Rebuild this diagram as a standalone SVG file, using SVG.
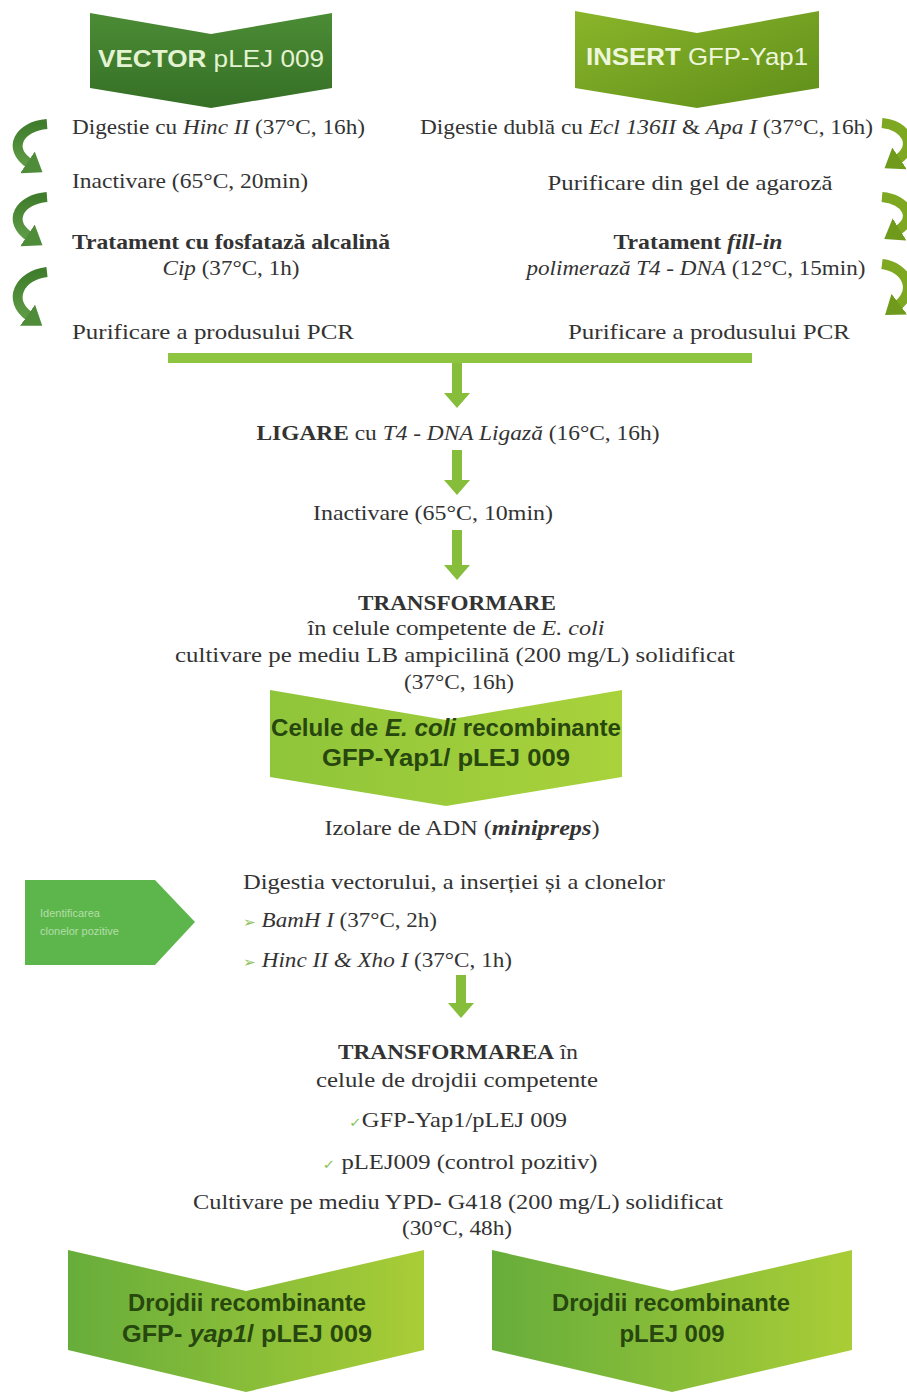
<svg xmlns="http://www.w3.org/2000/svg" width="907" height="1393" viewBox="0 0 907 1393">
<defs>
<style>
.t{font-family:"Liberation Serif","Times New Roman",serif;font-size:21px;fill:#333333}
.b{font-weight:bold}
.i{font-style:italic}
.hv{font-family:"Liberation Sans",Arial,sans-serif}
.ct{font-family:"Liberation Sans",Arial,sans-serif;font-size:23px;font-weight:bold;fill:#27470f;text-anchor:middle}
.m{text-anchor:middle}
.arr{fill:#86bd3a}
.cl{fill:none;stroke:url(#gl);stroke-width:10;stroke-linecap:butt}
.cr{fill:none;stroke:#7ea722;stroke-width:10;stroke-linecap:butt}
.g{fill:#8cc25a;font-family:"DejaVu Sans",sans-serif}
</style>
<linearGradient id="gv" x1="0" y1="0" x2="0" y2="1"><stop offset="0" stop-color="#4c8c35"/><stop offset="1" stop-color="#356f26"/></linearGradient>
<linearGradient id="gi" x1="0" y1="0" x2="1" y2="1"><stop offset="0" stop-color="#8ab52a"/><stop offset="1" stop-color="#5f8e1a"/></linearGradient>
<linearGradient id="gc" x1="0" y1="0" x2="1" y2="0"><stop offset="0" stop-color="#8fc53a"/><stop offset="1" stop-color="#a9d23b"/></linearGradient>
<linearGradient id="gb" x1="0" y1="0" x2="1" y2="0"><stop offset="0" stop-color="#67ad3b"/><stop offset="1" stop-color="#a9cd36"/></linearGradient>
<linearGradient id="gl" x1="0" y1="0" x2="0" y2="1"><stop offset="0" stop-color="#3f7d2c"/><stop offset="1" stop-color="#5f9b45"/></linearGradient>
<marker id="ml" markerUnits="userSpaceOnUse" markerWidth="22" markerHeight="26" refX="3" refY="13" orient="auto"><path d="M0,0 L18,13 L0,26 Z" fill="#4f8c3a"/></marker>
<marker id="mr" markerUnits="userSpaceOnUse" markerWidth="22" markerHeight="26" refX="3" refY="13" orient="auto"><path d="M0,0 L18,13 L0,26 Z" fill="#6f9a1c"/></marker>
</defs>
<rect width="907" height="1393" fill="#ffffff"/>

<g id="connectors">
<path class="cl" d="M47,124 C20,126 6,148 30,164" marker-end="url(#ml)"/>
<path class="cl" d="M47,197 C20,199 6,221 30,237" marker-end="url(#ml)"/>
<path class="cl" d="M47,272 C20,275 6,300 30,317" marker-end="url(#ml)"/>
<path class="cr" d="M882,123 C906,125 918,146 897,160" marker-end="url(#mr)"/>
<path class="cr" d="M882,197 C906,199 918,218 897,231" marker-end="url(#mr)"/>
<path class="cr" d="M882,264 C906,267 918,290 897,306" marker-end="url(#mr)"/>
<rect x="168" y="353" width="584" height="10" fill="#8dc540"/>
<polygon class="arr" points="452,363 462,363 462,393 470,393 457,408 444,393 452,393"/>
<polygon class="arr" points="452,450 462,450 462,480 470,480 457,495 444,480 452,480"/>
<polygon class="arr" points="452,530 462,530 462,565 470,565 457,580 444,565 452,565"/>
<polygon class="arr" points="456,975 466,975 466,1003 474,1003 461,1018 448,1003 456,1003"/>
</g>

<g id="vector">
<path d="M90,13 L211,34 L332,13 L332,88 L211,108 L90,88 Z" fill="url(#gv)"/>
<text x="211" y="67" class="hv m" font-size="24" fill="#e4f3d2" textLength="226" lengthAdjust="spacingAndGlyphs"><tspan font-weight="bold">VECTOR</tspan> pLEJ 009</text>
</g>

<g id="insert">
<path d="M575,11 L697,33 L819,11 L819,88 L697,108 L575,88 Z" fill="url(#gi)"/>
<text x="697" y="65" class="hv m" font-size="24" fill="#eef6dc" textLength="222" lengthAdjust="spacingAndGlyphs"><tspan font-weight="bold">INSERT</tspan> GFP-Yap1</text>
</g>

<g id="vector-steps">
<text x="72" y="134" class="t" textLength="293" lengthAdjust="spacingAndGlyphs">Digestie cu <tspan class="i">Hinc II</tspan> (37°C, 16h)</text>
<text x="72" y="188" class="t" textLength="236" lengthAdjust="spacingAndGlyphs">Inactivare (65°C, 20min)</text>
<text x="231" y="249" class="t b m" textLength="318" lengthAdjust="spacingAndGlyphs">Tratament cu fosfatază alcalină</text>
<text x="231" y="275" class="t m" textLength="137" lengthAdjust="spacingAndGlyphs"><tspan class="i">Cip</tspan> (37°C, 1h)</text>
<text x="72" y="339" class="t" textLength="282" lengthAdjust="spacingAndGlyphs">Purificare a produsului PCR</text>
</g>

<g id="insert-steps">
<text x="420" y="134" class="t" textLength="453" lengthAdjust="spacingAndGlyphs">Digestie dublă cu <tspan class="i">Ecl 136II</tspan> &amp; <tspan class="i">Apa I</tspan> (37°C, 16h)</text>
<text x="690" y="190" class="t m" textLength="285" lengthAdjust="spacingAndGlyphs">Purificare din gel de agaroză</text>
<text x="698" y="249" class="t m" textLength="169" lengthAdjust="spacingAndGlyphs"><tspan class="b">Tratament </tspan><tspan class="b i">fill-in</tspan></text>
<text x="696" y="275" class="t m" textLength="339" lengthAdjust="spacingAndGlyphs"><tspan class="i">polimerază T4 - DNA</tspan> (12°C, 15min)</text>
<text x="709" y="339" class="t m" textLength="282" lengthAdjust="spacingAndGlyphs">Purificare a produsului PCR</text>
</g>

<g id="ligare">
<text x="458" y="440" class="t m" textLength="403" lengthAdjust="spacingAndGlyphs"><tspan class="b">LIGARE</tspan> cu <tspan class="i">T4 - DNA Ligază</tspan> (16°C, 16h)</text>
</g>
<g id="inactivare">
<text x="433" y="520" class="t m" textLength="240" lengthAdjust="spacingAndGlyphs">Inactivare (65°C, 10min)</text>
</g>
<g id="transformare">
<text x="457" y="610" class="t b m" textLength="198" lengthAdjust="spacingAndGlyphs">TRANSFORMARE</text>
<text x="456" y="635" class="t m" textLength="297" lengthAdjust="spacingAndGlyphs">în celule competente de <tspan class="i">E. coli</tspan></text>
<text x="455" y="662" class="t m" textLength="560" lengthAdjust="spacingAndGlyphs">cultivare pe mediu LB ampicilină (200 mg/L) solidificat</text>
<text x="459" y="689" class="t m" textLength="110" lengthAdjust="spacingAndGlyphs">(37°C, 16h)</text>
</g>

<g id="celule">
<path d="M270,690 L446,720 L622,690 L622,777 L446,806 L270,777 Z" fill="url(#gc)"/>
<text x="446" y="736" class="ct" textLength="350" lengthAdjust="spacingAndGlyphs"><tspan>Celule de </tspan><tspan font-style="italic">E. coli</tspan><tspan> recombinante</tspan></text>
<text x="446" y="766" class="ct" textLength="248" lengthAdjust="spacingAndGlyphs">GFP-Yap1/ pLEJ 009</text>
</g>

<g id="izolare">
<text x="462" y="835" class="t m" textLength="275" lengthAdjust="spacingAndGlyphs">Izolare de ADN (<tspan class="b i">minipreps</tspan>)</text>
</g>

<g id="identificare">
<path d="M25,880 L155,880 L195,922 L155,965 L25,965 Z" fill="#5db64b"/>
<text x="40" y="917" class="hv" font-size="11" fill="#b4deaa">Identificarea</text>
<text x="40" y="935" class="hv" font-size="11" fill="#b4deaa">clonelor pozitive</text>
</g>

<g id="digestia">
<text x="243" y="889" class="t" textLength="422" lengthAdjust="spacingAndGlyphs">Digestia vectorului, a inserției și a clonelor</text>
<text x="243" y="927" class="t" textLength="194" lengthAdjust="spacingAndGlyphs"><tspan class="g" font-size="14">➢</tspan> <tspan class="i">BamH I</tspan> (37°C, 2h)</text>
<text x="243" y="967" class="t" textLength="269" lengthAdjust="spacingAndGlyphs"><tspan class="g" font-size="14">➢</tspan> <tspan class="i">Hinc II &amp; Xho I</tspan> (37°C, 1h)</text>
</g>

<g id="transformarea">
<text x="458" y="1059" class="t m" textLength="240" lengthAdjust="spacingAndGlyphs"><tspan class="b">TRANSFORMAREA</tspan> în</text>
<text x="457" y="1087" class="t m" textLength="282" lengthAdjust="spacingAndGlyphs">celule de drojdii competente</text>
<text x="458" y="1127" class="t m" textLength="218" lengthAdjust="spacingAndGlyphs"><tspan class="g" font-size="13">✓</tspan>GFP-Yap1/pLEJ 009</text>
<text x="460" y="1169" class="t m" textLength="275" lengthAdjust="spacingAndGlyphs"><tspan class="g" font-size="13">✓</tspan> pLEJ009 (control pozitiv)</text>
<text x="458" y="1209" class="t m" textLength="530" lengthAdjust="spacingAndGlyphs">Cultivare pe mediu YPD- G418 (200 mg/L) solidificat</text>
<text x="457" y="1235" class="t m" textLength="110" lengthAdjust="spacingAndGlyphs">(30°C, 48h)</text>
</g>

<g id="drojdii-gfp">
<path d="M68,1250 L246,1291 L424,1250 L424,1350 L246,1392 L68,1350 Z" fill="url(#gb)"/>
<text x="247" y="1311" class="ct" textLength="238" lengthAdjust="spacingAndGlyphs">Drojdii recombinante</text>
<text x="247" y="1342" class="ct" textLength="250" lengthAdjust="spacingAndGlyphs">GFP- <tspan font-style="italic">yap1</tspan>/ pLEJ 009</text>
</g>

<g id="drojdii-plej">
<path d="M492,1250 L672,1291 L852,1250 L852,1350 L672,1392 L492,1350 Z" fill="url(#gb)"/>
<text x="671" y="1311" class="ct" textLength="238" lengthAdjust="spacingAndGlyphs">Drojdii recombinante</text>
<text x="672" y="1342" class="ct" textLength="105" lengthAdjust="spacingAndGlyphs">pLEJ 009</text>
</g>
</svg>
